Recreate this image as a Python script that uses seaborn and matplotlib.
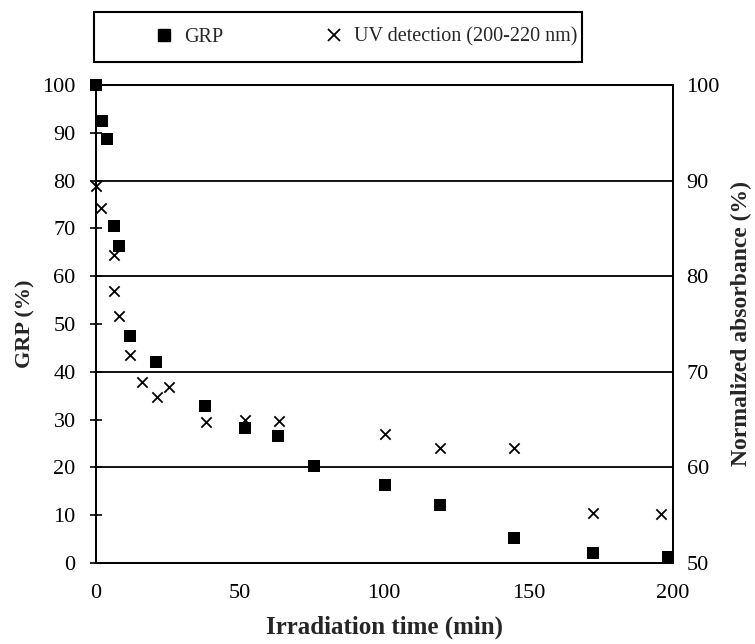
import numpy as np
import pandas as pd
import seaborn as sns
import matplotlib.pyplot as plt
from matplotlib.lines import Line2D
from matplotlib.patches import Rectangle

# GRP (left axis, %)
grp_time = [0, 2.2, 4.0, 6.3, 8.0, 11.9, 21.0, 38.0, 51.7, 63.3, 75.8, 100.2, 119.2, 144.9, 172.3, 198.3]
grp_value = [100, 92.5, 88.6, 70.5, 66.3, 47.4, 42.0, 32.8, 28.2, 26.6, 20.2, 16.2, 12.1, 5.2, 2.1, 1.2]

# UV detection (right axis, normalized absorbance %)
uv_time = [0, 1.7, 6.3, 6.3, 8.1, 11.9, 15.9, 21.1, 25.2, 38.2, 51.8, 63.4, 100.2, 119.2, 144.9, 172.3, 196.1]
uv_value = [89.4, 87.1, 82.2, 78.4, 75.8, 71.7, 68.9, 67.4, 68.4, 64.7, 64.9, 64.8, 63.5, 62.0, 62.0, 55.2, 55.1]

left_ticks = list(range(0, 101, 10))
right_ticks = list(range(50, 101, 10))
x_ticks = [0, 50, 100, 150, 200]

df_grp = pd.DataFrame({'time': grp_time, 'value': grp_value})
df_uv = pd.DataFrame({'time': uv_time, 'value': uv_value})

sns.set_style("white")
plt.rcParams['font.family'] = ['Liberation Serif', 'DejaVu Serif']
plt.rcParams['axes.edgecolor'] = 'black'
plt.rcParams['axes.linewidth'] = 1.3

fig = plt.figure(figsize=(7.55, 6.44), dpi=100)
ax = fig.add_axes([0.127, 0.126, 0.764, 0.742])
ax2 = ax.twinx()

# horizontal grid lines
for g in [20, 40, 60, 80]:
    ax.axhline(g, color='black', lw=1.3, zorder=1)

sns.scatterplot(data=df_grp, x='time', y='value', marker='s', color='black',
                s=75, linewidth=0, ax=ax, zorder=3, clip_on=False)
sns.scatterplot(data=df_uv, x='time', y='value', marker='x', color='black',
                s=55, linewidth=1.3, ax=ax2, zorder=3, clip_on=False)

ax.set_xlim(0, 200)
ax.set_ylim(0, 100)
ax2.set_ylim(50, 100)
ax.set_xticks(x_ticks)
ax.set_yticks(left_ticks)
ax2.set_yticks(right_ticks)

ax.tick_params(axis='both', direction='inout', length=9, width=1.2,
               labelsize=16, colors='black')
ax.tick_params(axis='y', pad=10)
ax.tick_params(axis='x', pad=11)
ax2.tick_params(axis='y', length=0, labelsize=16, pad=10, colors='black')

ax.set_xlabel('Irradiation time (min)', fontsize=18, fontweight='bold', labelpad=9)
ax.set_ylabel('GRP (%)', fontsize=16, fontweight='bold', labelpad=5)
ax2.set_ylabel('Normalized absorbance (%)', fontsize=17, fontweight='bold', labelpad=8)
ax2.set_xlabel('')

for a in (ax, ax2):
    for s in a.spines.values():
        s.set_color('black')
        s.set_linewidth(1.3)

# legend box above the plot
fig.add_artist(Rectangle((0.1245, 0.9037), 0.646, 0.0776, transform=fig.transFigure,
                         fill=False, edgecolor='black', linewidth=1.5))
handles = [
    Line2D([], [], marker='s', color='black', linestyle='none', markersize=8.5),
    Line2D([], [], marker='x', color='black', linestyle='none', markersize=8, markeredgewidth=1.3),
]
fig.legend(handles, ['GRP', 'UV detection (200-220 nm)'], loc='center left',
           bbox_to_anchor=(0.204, 0.9425), ncol=2, fontsize=14.5, frameon=False,
           borderaxespad=0, borderpad=0, handlelength=1.0, handletextpad=0.5,
           columnspacing=5.0)

fig.savefig('out.png', dpi=100)
